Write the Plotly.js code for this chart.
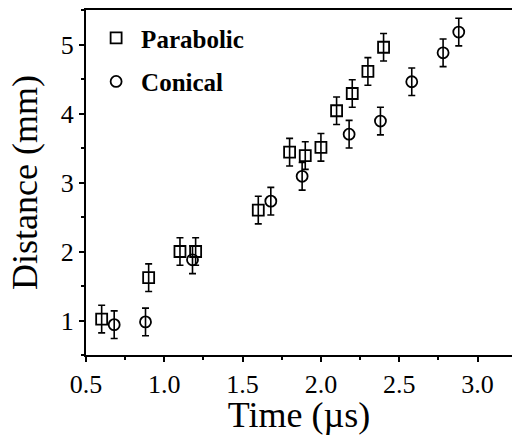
<!DOCTYPE html>
<html>
<head>
<meta charset="utf-8">
<script src="https://cdn.plot.ly/plotly-3.0.1.min.js"></script>
<style>html,body{margin:0;padding:0;background:#fff;}#chart{width:512px;height:435px;}</style>
</head>
<body>
<div id="chart"></div>
<script>
// Parabolic series
const paraTime = [0.6, 0.9, 1.1, 1.2, 1.6, 1.8, 1.9, 2.0, 2.1, 2.2, 2.3, 2.4];
const paraDist = [1.02, 1.62, 2.0, 2.0, 2.6, 3.44, 3.39, 3.51, 4.04, 4.29, 4.61, 4.96];
const paraErr  = [0.2, 0.2, 0.2, 0.2, 0.2, 0.2, 0.2, 0.2, 0.2, 0.2, 0.2, 0.2];
// Conical series
const coneTime = [0.68, 0.88, 1.18, 1.68, 1.88, 2.18, 2.38, 2.58, 2.78, 2.88];
const coneDist = [0.94, 0.98, 1.88, 2.73, 3.09, 3.70, 3.89, 4.46, 4.88, 5.18];
const coneErr  = [0.2, 0.2, 0.2, 0.2, 0.2, 0.2, 0.2, 0.2, 0.2, 0.2];
const xTicks = [0.5, 1.0, 1.5, 2.0, 2.5, 3.0];
const xTickText = ['0.5', '1.0', '1.5', '2.0', '2.5', '3.0'];
const yTicks = [1, 2, 3, 4, 5];

const serif = '"Liberation Serif", "Times New Roman", serif';

const traces = [
  {
    x: paraTime, y: paraDist, name: 'Parabolic', type: 'scatter', mode: 'markers',
    legendgroup: 'a',
    marker: {symbol: 'square-open', size: 11, color: '#000', line: {width: 1.8, color: '#000'}},
    error_y: {type: 'data', array: paraErr, visible: true, color: '#000', thickness: 1.6, width: 3.5}
  },
  {
    x: coneTime, y: coneDist, name: 'Conical', type: 'scatter', mode: 'markers',
    legendgroup: 'b',
    marker: {symbol: 'circle-open', size: 11, color: '#000', line: {width: 1.8, color: '#000'}},
    error_y: {type: 'data', array: coneErr, visible: true, color: '#000', thickness: 1.6, width: 3.5}
  }
];

const layout = {
  width: 512, height: 435,
  margin: {l: 86, r: 0, t: 10, b: 80},
  paper_bgcolor: '#fff', plot_bgcolor: '#fff',
  font: {family: serif, color: '#000'},
  showlegend: true,
  legend: {
    x: 0.012, y: 0.985, xanchor: 'left', yanchor: 'top',
    bgcolor: 'rgba(0,0,0,0)', borderwidth: 0,
    font: {family: serif, size: 25, color: '#000', weight: 'bold'},
    traceorder: 'grouped', tracegroupgap: 8, itemwidth: 40
  },
  xaxis: {
    range: [0.5, 3.22],
    tickvals: xTicks, ticktext: xTickText,
    ticks: 'outside', ticklen: 5, tickwidth: 2, tickcolor: '#000',
    minor: {dtick: 0.25, ticks: 'outside', ticklen: 3, tickwidth: 2, tickcolor: '#000', showgrid: false},
    showline: true, linewidth: 2, linecolor: '#000', mirror: true,
    showgrid: false, zeroline: false,
    tickfont: {family: serif, size: 26, color: '#000'},
    title: {text: 'Time (µs)', font: {family: serif, size: 36, color: '#000'}, standoff: 12}
  },
  yaxis: {
    range: [0.5, 5.5],
    tickvals: yTicks,
    ticks: 'outside', ticklen: 5, tickwidth: 2, tickcolor: '#000',
    minor: {dtick: 0.5, tick0: 0.5, ticks: 'outside', ticklen: 3, tickwidth: 2, tickcolor: '#000', showgrid: false},
    showline: true, linewidth: 2, linecolor: '#000', mirror: false,
    showgrid: false, zeroline: false,
    tickfont: {family: serif, size: 26, color: '#000'},
    title: {text: 'Distance (mm)', font: {family: serif, size: 36, color: '#000'}, standoff: 12}
  }
};

Plotly.newPlot('chart', traces, layout, {displayModeBar: false, staticPlot: true});
</script>
</body>
</html>
